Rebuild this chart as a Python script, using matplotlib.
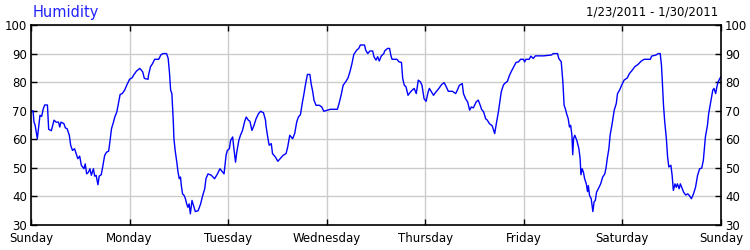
import matplotlib
matplotlib.use("Agg")
import matplotlib.pyplot as plt

title = "Humidity"
date_range = "1/23/2011 - 1/30/2011"
day_labels = ["Sunday", "Monday", "Tuesday", "Wednesday", "Thursday", "Friday", "Saturday", "Sunday"]
y_ticks = [30, 40, 50, 60, 70, 80, 90, 100]

# time in hours since Sunday 00:00
hours = [
    0.0, 0.5, 0.73, 1.0, 1.54, 1.85, 2.19, 2.6, 2.95, 3.33, 4.0, 4.3, 4.95, 5.3, 5.6, 6.1, 6.7, 7.0, 7.3, 8.0,
    8.36, 8.8, 9.33, 9.66, 10.1, 10.6, 11.0, 11.4, 11.85, 12.26, 12.9, 13.2, 13.55, 14.0, 14.35, 14.7, 15.2, 15.5,
    15.85, 16.3, 16.6, 17.1, 17.45, 17.94, 18.4, 18.9, 19.2, 19.6, 20.1, 20.4, 20.9, 21.2, 21.7, 22.2, 22.8, 23.3,
    24.0, 24.6, 25.1, 25.7, 26.5, 27.2, 27.6, 28.5,
    28.6, 29.1, 29.6, 30.1, 31.1, 31.6, 32.1, 33.0, 33.4, 33.7, 34.0, 34.3, 34.5, 34.65, 34.8, 35.1, 35.5, 35.8,
    36.1, 36.4, 36.6, 36.9, 37.3, 37.6, 37.9, 38.2, 38.5, 38.8, 39.2, 39.7, 40.0, 40.7, 41.0, 41.3, 41.8, 42.3,
    42.6, 43.1, 43.9, 44.7, 45.4, 46.0, 46.5, 47.0, 47.5, 47.8, 48.3, 48.6, 49.1, 49.4, 49.8, 50.1, 50.6, 51.0,
    51.5, 52.0, 52.4, 52.9, 53.3, 53.8, 54.3, 54.8, 55.4, 55.9, 56.6, 57.1,
    57.2, 57.7, 58.0, 58.5, 58.8, 59.5, 60.1, 60.8, 61.4, 62.1, 62.5, 63.0, 63.7, 64.2, 64.7, 65.1, 65.6, 66.1,
    66.4, 66.8, 67.3, 67.9, 68.2, 68.6, 68.9, 69.4, 70.2, 70.8, 71.3, 72.9, 74.6, 75.0, 75.5, 76.0, 76.7, 77.2,
    77.7, 78.1, 78.6, 79.3, 79.8, 80.2, 81.2, 81.5, 82.0, 82.5, 83.2, 83.5, 84.0, 84.4, 84.8, 85.3, 85.9,
    86.1, 86.8, 87.3, 87.6, 87.9, 89.1, 89.6, 90.2, 90.5, 90.9, 91.3, 91.8, 92.3, 92.8, 93.3, 93.8, 94.3, 94.8,
    95.2, 95.7, 96.2, 96.7, 97.0, 97.5, 98.0, 98.5, 99.3, 100.0, 100.6, 101.1, 101.6, 102.6, 103.4, 103.8, 104.3,
    105.0, 105.3, 105.8, 106.3, 106.8, 107.2, 107.7, 108.4, 108.9, 109.3, 109.7, 110.2, 110.7, 111.1, 111.6,
    112.3, 112.9, 113.3, 113.8, 114.2, 114.5,
    115.0, 115.3, 116.0, 116.5, 117.0, 117.4, 118.1, 118.7, 119.2, 119.9, 120.2, 120.5, 121.3, 121.7, 122.3,
    122.8, 124.8, 126.7, 127.2, 128.2, 128.5, 129.1, 129.5, 129.8, 130.1, 130.4, 130.8, 131.1, 131.4, 131.7,
    131.9, 132.1, 132.4, 132.9, 133.4, 133.7, 133.9, 134.2, 134.5, 134.8, 135.2, 135.5, 135.7, 136.0, 136.4,
    136.8, 137.1, 137.4, 137.7, 138.2, 138.7, 139.2, 139.7, 140.0, 140.3, 140.7, 141.0, 141.5,
    142.0, 142.5, 142.8, 143.3, 143.8, 144.4, 145.2, 145.7, 146.4, 147.0, 147.8, 148.6, 149.3, 150.8, 151.1,
    152.2, 152.7, 153.2, 153.5, 153.7, 154.0, 154.3, 154.7, 155.0, 155.3, 155.8, 156.1, 156.4, 156.8, 157.1,
    157.4, 157.8, 158.1, 158.5, 158.9, 159.4, 159.9, 160.3, 160.8, 161.3, 161.8, 162.3, 162.8, 163.3, 163.7,
    164.2, 164.7, 165.0, 165.5, 166.0, 166.3, 166.7, 167.0, 167.3, 167.8, 168.0,
]
humidity = [
    69.6, 70.0, 66.0, 65.0, 60.2, 64.0, 68.4, 68.0, 70.5, 72.0, 72.0, 63.5, 63.0, 65.0, 66.7, 66.0, 66.0, 64.3,
    66.0, 65.5, 64.0, 63.7, 61.4, 57.9, 56.1, 56.7, 55.0, 53.2, 54.1, 50.9, 49.7, 51.4, 47.9, 48.5, 49.7, 47.4,
    49.7, 47.1, 47.4, 44.1, 47.1, 47.6, 50.3, 54.4, 55.5, 55.8, 59.0, 63.7, 66.1, 67.8, 69.6, 71.9, 75.7, 76.0,
    77.2, 78.9, 81.0, 81.5, 82.7, 83.9, 84.8, 83.6, 81.3, 81.0,
    82.4, 85.4, 86.5, 88.0, 88.0, 89.5, 90.0, 90.0, 88.3, 83.6, 77.2, 76.0, 70.7, 66.1, 60.2, 56.1, 52.0, 48.5,
    46.2, 46.8, 43.8, 40.9, 40.3, 39.2, 37.4, 36.2, 37.4, 33.9, 38.6, 36.2, 34.7, 35.0, 36.2, 37.4, 40.3, 42.7,
    46.2, 47.9, 47.4, 46.2, 47.9, 49.7, 48.8, 47.9, 54.4, 56.1, 56.7, 59.6, 60.8, 56.7, 52.0, 55.5, 59.6, 61.4,
    63.1, 66.1, 67.8, 66.7, 66.3, 63.1, 64.9, 67.2, 69.0, 69.8, 69.3, 66.7,
    64.9, 60.2, 57.9, 58.5, 55.0, 53.8, 52.3, 53.4, 54.4, 55.0, 57.3, 61.4, 60.2, 62.0, 66.1, 67.8, 68.6, 73.1,
    75.4, 78.9, 82.7, 82.7, 79.5, 76.6, 73.7, 71.9, 71.9, 71.3, 69.8, 70.5, 70.5, 72.5, 75.4, 78.9, 80.3, 81.5,
    83.9, 86.2, 89.7, 91.2, 91.8, 93.0, 93.0, 91.2, 90.0, 90.9, 90.9, 88.9, 87.7, 88.9, 87.4, 89.2, 90.0,
    90.9, 91.8, 91.8, 89.5, 88.0, 88.0, 87.1, 86.9, 81.3, 78.9, 78.4, 75.4, 76.4, 77.2, 77.8, 76.0, 80.7, 80.1,
    78.9, 74.2, 73.3, 76.6, 77.8, 76.6, 75.4, 76.4, 77.8, 79.2, 79.8, 78.4, 76.8, 76.8, 76.0, 77.2, 78.9,
    79.5, 76.0, 74.2, 73.1, 70.2, 71.3, 71.0, 73.1, 73.7, 72.2, 70.5, 69.6, 67.2, 66.7, 65.5,
    64.7, 62.0, 65.5, 69.6, 73.7, 76.6,
    78.9, 79.5, 80.3, 82.4, 83.9, 85.0, 86.9, 87.1, 88.0, 88.0, 87.1, 88.0, 88.0, 89.1, 88.3,
    89.2, 89.2, 89.5, 90.0, 90.0, 88.3, 87.1, 80.1, 71.9, 70.7, 69.0, 67.2, 64.3, 64.9, 61.4,
    54.6, 60.2, 61.4, 59.6, 56.7, 53.2, 47.6, 49.7, 48.5, 46.2, 44.4, 41.7, 43.8, 40.3, 39.2,
    34.7, 38.1, 38.6, 41.5, 42.9, 44.4, 46.8, 47.9, 49.9, 53.2, 56.7, 61.4, 65.5,
    70.2, 72.5, 76.0, 77.2, 78.9, 80.7, 81.5, 83.0, 84.2, 85.4, 86.2, 87.4, 88.0, 88.0, 89.1,
    89.5, 90.0, 90.0, 86.0, 80.7, 71.9, 66.1, 60.2, 53.8, 50.3, 50.9, 47.4, 42.1, 44.4, 43.2,
    44.4, 42.7, 44.4, 42.9, 41.5, 40.5, 40.9, 40.3, 39.2, 40.9, 43.2, 47.4, 49.7, 49.9, 52.6,
    60.8, 64.9, 69.0, 73.1, 77.2, 77.8, 76.0, 78.4, 80.1, 81.5, 81.9,
]

plt.rcParams['font.family'] = ['DejaVu Sans']
fig = plt.figure(figsize=(7.5, 2.5), dpi=100)
ax = fig.add_axes([31 / 750, 25 / 250, 690 / 750, 200 / 250])

ax.plot(hours, humidity, color='#0000FF', linewidth=1.0)

ax.set_xlim(0, 168)
ax.set_ylim(30, 100)
ax.set_xticks([24 * i for i in range(len(day_labels))])
ax.set_xticklabels(day_labels)
ax.set_yticks(y_ticks)
ax.grid(True, color='#CCCCCC', linewidth=1.0)
ax.set_axisbelow(True)
ax.tick_params(axis='both', direction='in', length=4, width=1, labelsize=8.5,
               top=True, right=True, labelright=True, colors='black', pad=3)
ax.tick_params(axis='x', pad=5)
for s in ax.spines.values():
    s.set_linewidth(1.2)
    s.set_color('black')

fig.text(33 / 750, 1 - 12 / 250, title, color='#2222FF', fontsize=10.5, ha='left', va='center')
fig.text(718 / 750, 1 - 12 / 250, date_range, color='black', fontsize=8.5, ha='right', va='center')

fig.savefig("out.png", dpi=100)
